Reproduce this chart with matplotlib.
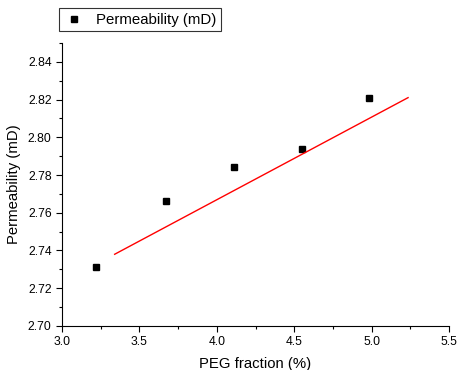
import matplotlib
matplotlib.use("Agg")
import matplotlib.pyplot as plt
from matplotlib.ticker import MultipleLocator

# 数据
peg_fraction = [3.22, 3.67, 4.11, 4.55, 4.98]
permeability = [2.731, 2.766, 2.784, 2.794, 2.821]
fit_x = [3.34, 5.235]
fit_y = [2.738, 2.821]
y_ticks = [2.70, 2.72, 2.74, 2.76, 2.78, 2.80, 2.82, 2.84]
x_ticks = [3.0, 3.5, 4.0, 4.5, 5.0, 5.5]

plt.rcParams['font.family'] = ['Liberation Sans', 'DejaVu Sans']

fig = plt.figure(figsize=(4.57, 3.70), dpi=100)
ax = fig.add_axes([0.1357, 0.119, 0.847, 0.765])

ax.plot(peg_fraction, permeability, 's', color='black', markersize=5,
        label='Permeability (mD)')
ax.plot(fit_x, fit_y, '-', color='red', linewidth=1.0)

ax.set_xlim(3.0, 5.5)
ax.set_ylim(2.70, 2.85)
ax.set_xticks(x_ticks)
ax.set_xticklabels(["%.1f" % v for v in x_ticks])
ax.set_yticks(y_ticks)
ax.set_yticklabels(["%.2f" % v for v in y_ticks])
ax.xaxis.set_minor_locator(MultipleLocator(0.25))
ax.yaxis.set_minor_locator(MultipleLocator(0.01))

ax.spines['top'].set_visible(False)
ax.spines['right'].set_visible(False)
ax.tick_params(which='major', direction='out', length=4, width=0.8, labelsize=8.7)
ax.tick_params(which='minor', direction='out', length=2, width=0.8)

ax.set_xlabel("PEG fraction (%)", fontsize=10.7, labelpad=6)
ax.set_ylabel("Permeability (mD)", fontsize=10.7, labelpad=5)

leg = ax.legend(loc='lower left', bbox_to_anchor=(-0.028, 1.014), frameon=True,
                fancybox=False, edgecolor='black', fontsize=10.8,
                handlelength=1.4, borderpad=0.3, handletextpad=0.8)
leg.get_frame().set_linewidth(0.8)

fig.savefig("out.png", dpi=100)
